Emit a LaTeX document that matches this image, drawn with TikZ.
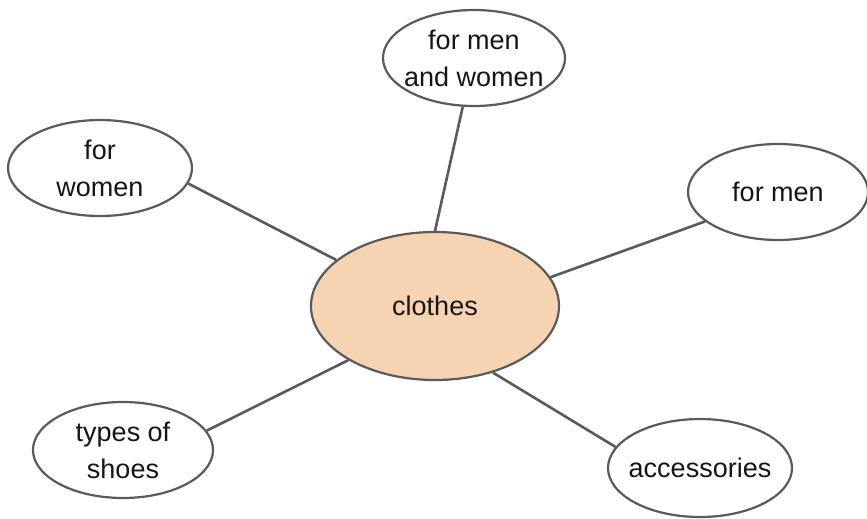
\documentclass[tikz,border=0pt]{standalone}
\usepackage{fontspec}
\setmainfont{Liberation Sans}
\usetikzlibrary{shapes.geometric}
\definecolor{edgegray}{HTML}{5A5A5A}
\definecolor{peach}{HTML}{F6D4B1}
\definecolor{inkc}{HTML}{151515}
\tikzset{
  bubble/.style={ellipse, draw=edgegray, line width=2.2pt, fill=white, inner sep=0pt},
  txt/.style={align=center, text=inkc, inner sep=0pt, font=\fontsize{27pt}{37pt}\selectfont},
  link/.style={draw=edgegray, line width=2.6pt}
}
\begin{document}
\begin{tikzpicture}[x=1pt,y=-1pt]
\useasboundingbox[fill=white] (0,0) rectangle (867,519);
\node[bubble, fill=peach, minimum width=248pt, minimum height=148pt, label={[txt]center:clothes}] (c) at (435,306) {};
\node[bubble, minimum width=182pt, minimum height=96pt, label={[txt]center:for men\\and women}] (mw) at (474,58) {};
\node[bubble, minimum width=184pt, minimum height=96pt, label={[txt]center:for\\women}] (fw) at (100,168) {};
\node[bubble, minimum width=180pt, minimum height=96pt, label={[txt]center:for men}] (fm) at (778,192) {};
\node[bubble, minimum width=180pt, minimum height=96pt, label={[txt]center:types of\\shoes}] (ts) at (123,450) {};
\node[bubble, minimum width=184pt, minimum height=98pt, label={[txt]center:accessories}] (ac) at (700,468) {};
\draw[link] (mw.257) -- (c.90);
\draw[link] (fw.350) -- (c.155);
\draw[link] (fm.202) -- (c.14.6);
\draw[link] (ts.13) -- (c.212);
\draw[link] (ac.166) -- (c.311);
\end{tikzpicture}
\end{document}
